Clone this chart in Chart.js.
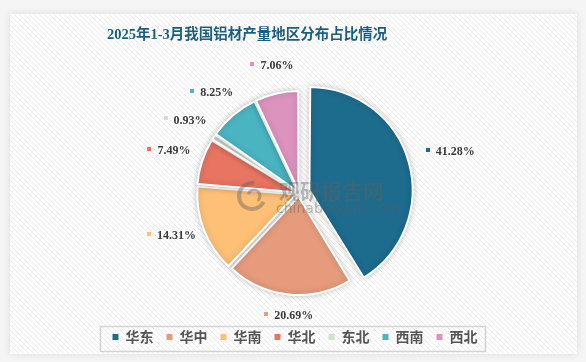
<!DOCTYPE html>
<html><head><meta charset="utf-8">
<script src="https://cdn.jsdelivr.net/npm/chart.js@4/dist/chart.umd.min.js"></script>
<style>html,body{margin:0;padding:0;background:#f5f5f5;}#wrap{width:586px;height:362px;}</style>
</head><body><div id="wrap"><canvas id="c" width="586" height="362"></canvas></div>
<script>
const chartTitle = '2025年1-3月我国铝材产量地区分布占比情况';
const regions = ['华东', '华中', '华南', '华北', '东北', '西南', '西北'];
const shares = [41.28, 20.69, 14.31, 7.49, 0.93, 8.25, 7.06];
const sliceColors = ['#1d6b8d', '#e59b7c', '#fdc076', '#e87462', '#d0e0cc', '#4ab4c0', '#dc93bd'];
// explode distance (px) of each slice from the pie centre
const explode = [16, 4, 4, 4, 4, 4, 4];

const total = shares.reduce((a, b) => a + b, 0);

const bgPlugin = {
  id: 'bg',
  beforeDraw(chart) {
    const ctx = chart.ctx;
    ctx.save();
    ctx.fillStyle = '#f5f5f5';
    ctx.fillRect(0, 0, chart.width, chart.height);
    ctx.shadowColor = 'rgba(0,0,0,0.10)';
    ctx.shadowBlur = 8;
    ctx.fillStyle = '#ffffff';
    ctx.fillRect(10, 14, 567, 340);
    ctx.shadowColor = 'transparent';
    const tile = document.createElement('canvas');
    tile.width = 5; tile.height = 5;
    const t = tile.getContext('2d');
    t.strokeStyle = '#ececec';
    t.lineWidth = 1;
    t.beginPath();
    t.moveTo(-1, -1); t.lineTo(6, 6);
    t.moveTo(-1, 4); t.lineTo(1, 6);
    t.moveTo(4, -1); t.lineTo(6, 1);
    t.stroke();
    ctx.fillStyle = ctx.createPattern(tile, 'repeat');
    ctx.fillRect(10, 14, 567, 340);
    // title
    ctx.font = 'bold 14.5px "Liberation Serif", "Noto Sans CJK SC"';
    ctx.fillStyle = '#1a5f7f';
    ctx.textBaseline = 'middle';
    ctx.textAlign = 'left';
    ctx.fillText(chartTitle, 107, 35);
    // legend frame
    const lg = chart.legend;
    if (lg && lg.lineWidths) {
      const pad = lg.options.labels.padding;
      const x0 = (lg.left + pad + lg.right - lg.lineWidths[0]) / 2;
      const x1 = x0 + lg.lineWidths[0] - pad;
      const cy = lg.top + pad + lg._computeTitleHeight() + 8.4;
      ctx.strokeStyle = '#d2d2d2';
      ctx.lineWidth = 1.5;
      ctx.strokeRect(Math.round(x0 - 13) + 0.5, Math.round(cy - 12) + 0.5, Math.round(x1 - x0 + 20), 25);
    }
    ctx.restore();
  },
  afterLayout(chart) {
    const lg = chart.legend;
    lg.left -= 4; lg.right -= 4;
  },
  beforeDatasetsDraw(chart) {
    const ctx = chart.ctx;
    ctx.save();
    ctx.shadowColor = 'rgba(0,0,0,0.22)';
    ctx.shadowBlur = 6;
  },
  afterDatasetsDraw(chart) {
    const ctx = chart.ctx;
    ctx.restore();
    ctx.save();
    const meta = chart.getDatasetMeta(0);
    ctx.font = 'bold 12px "Liberation Serif", "DejaVu Serif"';
    ctx.textBaseline = 'middle';
    ctx.textAlign = 'left';
    meta.data.forEach((arc, i) => {
      const p = arc.getProps(['x', 'y', 'startAngle', 'endAngle'], true);
      const mid = (p.startAngle + p.endAngle) / 2;
      const cx = p.x + 4 + (137 + explode[i]) * Math.cos(mid);
      const cy = p.y - 4 + (123 + explode[i]) * Math.sin(mid);
      const txt = shares[i].toFixed(2) + '%';
      const tw = ctx.measureText(txt).width;
      const bw = 10 + tw;
      const bx = cx - bw / 2;
      ctx.fillStyle = sliceColors[i];
      ctx.fillRect(Math.round(bx), Math.round(cy - 3), 4, 4);
      ctx.fillStyle = '#3a3a3a';
      ctx.fillText(txt, bx + 10, cy + 1);
    });
    // watermark
    ctx.fillStyle = 'rgba(95,95,95,0.42)';
    ctx.strokeStyle = 'rgba(95,95,95,0.42)';
    ctx.lineWidth = 4;
    ctx.beginPath(); ctx.arc(252, 196, 13, Math.PI * 0.15, Math.PI * 1.55); ctx.stroke();
    ctx.lineWidth = 3;
    ctx.beginPath(); ctx.arc(254, 196, 6, Math.PI * 1.1, Math.PI * 2.3); ctx.stroke();
    ctx.font = 'bold 21px "Noto Sans CJK SC"';
    ctx.textBaseline = 'middle';
    ctx.fillText('观研报告网', 279, 191);
    ctx.font = '14px "DejaVu Sans"';
    ctx.fillText('chinabaogao.com', 276, 209);
    ctx.restore();
  }
};

new Chart(document.getElementById('c'), {
  type: 'pie',
  data: {
    labels: regions,
    datasets: [{
      data: shares,
      backgroundColor: sliceColors,
      borderColor: '#ffffff',
      borderWidth: 2,
      // Chart.js moves an arc by offset/4*(1+fix); invert that so the move equals explode[i]
      offset: (c) => {
        const circ = (c.parsed / total) * Math.PI * 2;
        const fix = 1 - Math.sin(Math.min(Math.PI, circ));
        return 4 * explode[c.dataIndex] / (1 + fix);
      },
      hoverOffset: 0
    }]
  },
  options: {
    responsive: false,
    animation: false,
    radius: 98,
    layout: { padding: { left: 14, right: 2, top: 69, bottom: 8 } },
    plugins: {
      tooltip: { enabled: false },
      title: { display: false },
      legend: {
        position: 'bottom',
        labels: {
          usePointStyle: true,
          pointStyle: 'rect',
          boxWidth: 6,
          boxHeight: 6,
          padding: 13,
          color: '#555555',
          font: { size: 14, weight: 'bold', family: '"Noto Sans CJK SC"' },
          generateLabels(chart) {
            return Chart.overrides.pie.plugins.legend.labels.generateLabels(chart)
              .map(l => Object.assign(l, { lineWidth: 0, strokeStyle: 'transparent' }));
          }
        }
      }
    }
  },
  plugins: [bgPlugin]
});
</script></body></html>
